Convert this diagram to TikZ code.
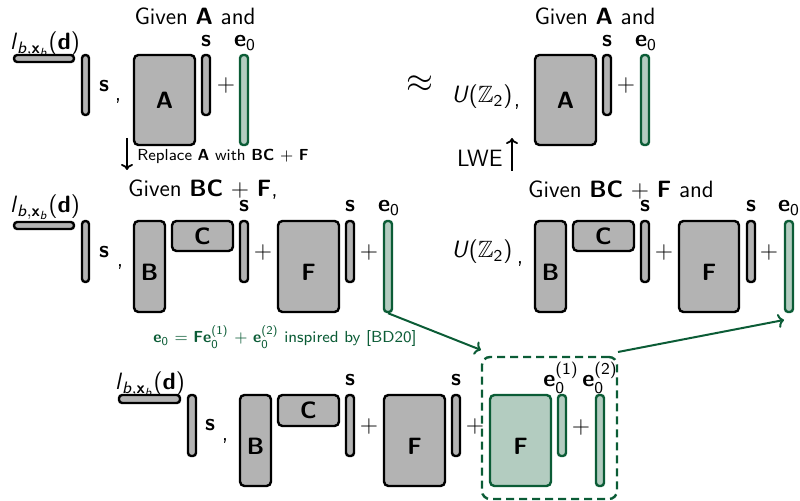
\documentclass[tikz,border=0pt]{standalone}
\usepackage{amsmath,amssymb}
\usetikzlibrary{fit,arrows.meta}
\definecolor{boxgray}{HTML}{B3B3B3}
\definecolor{sage}{HTML}{B3CCC0}
\definecolor{dkgreen}{HTML}{0B5C36}
\tikzset{
  base/.style={draw=black, line width=1.2pt, rounded corners=2.2pt, inner sep=0pt},
  gbox/.style={base, fill=boxgray},
  grbox/.style={base, draw=dkgreen, fill=sage},
  gbar/.style={gbox, rounded corners=1.6pt},
  grbar/.style={grbox, rounded corners=1.6pt},
  txt/.style={inner sep=0pt, anchor=base},
  ctr/.style={inner sep=0pt},
  small/.style={font=\sffamily\fontsize{8}{9}\selectfont},
  approxsign/.style={inner sep=0pt, font=\fontsize{17}{18}\selectfont},
}
% a block drawn as a fitted node between two corners
\newcommand\blk[4]{\node[#2, fit={#3 #4}] (#1) {};}
% sans-serif symbols set with text fonts
\newcommand\vb[1]{\textbf{#1}}
\newcommand\ezero{\textbf{e}\ensuremath{_{\text{0}}}}
\newcommand\ezk[1]{\textbf{e}\ensuremath{^{\text{(#1)}}_{\text{0}}}}
\newcommand\lbx{\textit{l}\ensuremath{_{\text{\textit{b}},\text{\textbf{x}}_{\text{\textit{b}}}}}(\textbf{d})}
\newcommand\unif{\textit{U}(\ensuremath{\mathbb{Z}_{\text{2}}})}
\begin{document}
\begin{tikzpicture}[x=0.5pt, y=-0.5pt, font=\sffamily\fontsize{11.8}{14}\selectfont]
\useasboundingbox (0,0) rectangle (800,501);

% ---------- row 1, left ----------
\node[txt] (g1) at (195,25) {Given \vb{A} and};
\node[txt] (l1) at (45,50) {\lbx};
\blk{hb1}{gbar}{(14,55)}{(74,62)}
\blk{vb1}{gbar}{(82,55)}{(89,115)}
\node[ctr] (s1) at (104,86) {\vb{s}};
\node[ctr] (c1) at (118,101) {,};
\blk{A1}{gbox}{(134,55)}{(195,145)}
\node[ctr] at (A1) {\vb{A}};
\blk{sa1}{gbar}{(202,55)}{(210,115)}
\node[txt] (lsa1) at (206,47) {\vb{s}};
\node[ctr] (p1) at (226,86) {$+$};
\blk{e1}{grbar}{(240,55)}{(248,145)}
\node[txt] (le1) at (245,47) {\ezero};

% ---------- row 1, right ----------
\node[approxsign] (ap) at (420,84) {$\approx$};
\node[ctr] (u1) at (482,97) {\unif};
\node[ctr] (c2) at (517,107) {,};
\node[txt] (g2) at (595,25) {Given \vb{A} and};
\blk{A2}{gbox}{(535,55)}{(596,145)}
\node[ctr] at (A2) {\vb{A}};
\blk{sa2}{gbar}{(603,55)}{(611,115)}
\node[txt] (lsa2) at (607,47) {\vb{s}};
\node[ctr] (p2) at (626,86) {$+$};
\blk{e2}{grbar}{(641,55)}{(649,145)}
\node[txt] (le2) at (646,47) {\ezero};

% ---------- arrows between rows 1 and 2 ----------
\coordinate (rtop) at (127,138);
\coordinate (rbot) at (127,170);
\draw[line width=0.9pt, -{To[length=3pt,width=6pt]}] (rtop) -- (rbot);
\node[small, anchor=west, inner sep=0pt] (repl) at (137,156) {Replace \vb{A} with \vb{BC} $+$ \vb{F}};
\coordinate (lbot) at (512,171);
\coordinate (ltop) at (512,138);
\draw[line width=0.9pt, -{To[length=3pt,width=6pt]}] (lbot) -- (ltop);
\node[anchor=east, inner sep=0pt] (lwe) at (503,158) {LWE};

% ---------- row 2, left ----------
\node[txt] (g3) at (203,197) {Given \vb{BC} $+$ \vb{F},};
\node[txt] (l3) at (45,213) {\lbx};
\blk{hb3}{gbar}{(14,222)}{(74,229)}
\blk{vb3}{gbar}{(82,221)}{(89,282)}
\node[ctr] (s3) at (104,252) {\vb{s}};
\node[ctr] (c3) at (120,267) {,};
\blk{B3}{gbox}{(134,221)}{(165,312)}
\node[ctr] at ([yshift=-3pt]B3.center) {\vb{B}};
\blk{C3}{gbox}{(172,221)}{(233,251)}
\node[ctr] at (C3) {\vb{C}};
\blk{sa3}{gbar}{(240,221)}{(248,282)}
\node[txt] (lsa3) at (244,212) {\vb{s}};
\node[ctr] (p3) at (263,253) {$+$};
\blk{F3}{gbox}{(278,221)}{(339,312)}
\node[ctr] at ([yshift=-3pt]F3.center) {\vb{F}};
\blk{sb3}{gbar}{(346,221)}{(354,282)}
\node[txt] (lsb3) at (350,212) {\vb{s}};
\node[ctr] (q3) at (369,253) {$+$};
\blk{e3}{grbar}{(384,221)}{(392,312)}
\node[txt] (le3) at (389,212) {\ezero};
\node[small, text=dkgreen, inner sep=0pt] (note) at (285,337)
  {\ezero{} $=$ \vb{F}\ezk{1} $+$ \ezk{2} inspired by [BD20]};

% ---------- row 2, right ----------
\node[txt] (g4) at (621,198) {Given \vb{BC} $+$ \vb{F} and};
\node[ctr] (u4) at (482,252) {\unif};
\node[ctr] (c4) at (520,264) {,};
\blk{B4}{gbox}{(535,221)}{(566,312)}
\node[ctr] at ([yshift=-3pt]B4.center) {\vb{B}};
\blk{C4}{gbox}{(573,221)}{(634,251)}
\node[ctr] at (C4) {\vb{C}};
\blk{sa4}{gbar}{(641,221)}{(649,282)}
\node[txt] (lsa4) at (645,212) {\vb{s}};
\node[ctr] (p4) at (664,253) {$+$};
\blk{F4}{gbox}{(679,221)}{(739,312)}
\node[ctr] at ([yshift=-3pt]F4.center) {\vb{F}};
\blk{sb4}{gbar}{(747,221)}{(755,282)}
\node[txt] (lsb4) at (751,212) {\vb{s}};
\node[ctr] (q4) at (769,253) {$+$};
\blk{e4}{grbar}{(785,221)}{(793,312)}
\node[txt] (le4) at (789,212) {\ezero};

% ---------- row 3 ----------
\node[txt] (l5) at (150,390) {\lbx};
\blk{hb5}{gbar}{(119,395)}{(180,403)}
\blk{vb5}{gbar}{(188,395)}{(196,456)}
\node[ctr] (s5) at (210,425) {\vb{s}};
\node[ctr] (c5) at (225,441) {,};
\blk{B5}{gbox}{(240,395)}{(271,486)}
\node[ctr] at ([yshift=-3pt]B5.center) {\vb{B}};
\blk{C5}{gbox}{(278,395)}{(339,426)}
\node[ctr] at (C5) {\vb{C}};
\blk{sa5}{gbar}{(346,395)}{(354,456)}
\node[txt] (lsa5) at (350,386) {\vb{s}};
\node[ctr] (p5) at (369,427) {$+$};
\blk{F5}{gbox}{(384,395)}{(445,486)}
\node[ctr] at ([yshift=-3pt]F5.center) {\vb{F}};
\blk{sb5}{gbar}{(452,395)}{(460,456)}
\node[txt] (lsb5) at (456,386) {\vb{s}};
\node[ctr] (q5) at (475,427) {$+$};
\node[draw=dkgreen, line width=1.2pt, dash pattern=on 4pt off 2.5pt,
      rounded corners=4pt, inner sep=0pt, fit={(482,357) (617,499)}] (dbox) {};
\blk{Fg}{grbox}{(490,395)}{(551,486)}
\node[ctr] at ([yshift=-3pt]Fg.center) {\vb{F}};
\blk{ea}{grbar}{(558,395)}{(566,456)}
\node[txt] (lea) at (561,387) {\ezk{1}};
\node[ctr] (pg) at (581,428) {$+$};
\blk{eb}{grbar}{(596,395)}{(604,486)}
\node[txt] (leb) at (600,387) {\ezk{2}};

% ---------- green connectors ----------
\coordinate (tipin) at (481,350);
\coordinate (outstart) at (618,352);
\coordinate (tipout) at (784,320);
\draw[dkgreen, line width=1pt, -{To[length=3pt,width=7pt]}] (e3.south) -- (tipin);
\draw[dkgreen, line width=1pt, -{To[length=3pt,width=7pt]}] (outstart) -- (tipout);
\end{tikzpicture}
\end{document}
